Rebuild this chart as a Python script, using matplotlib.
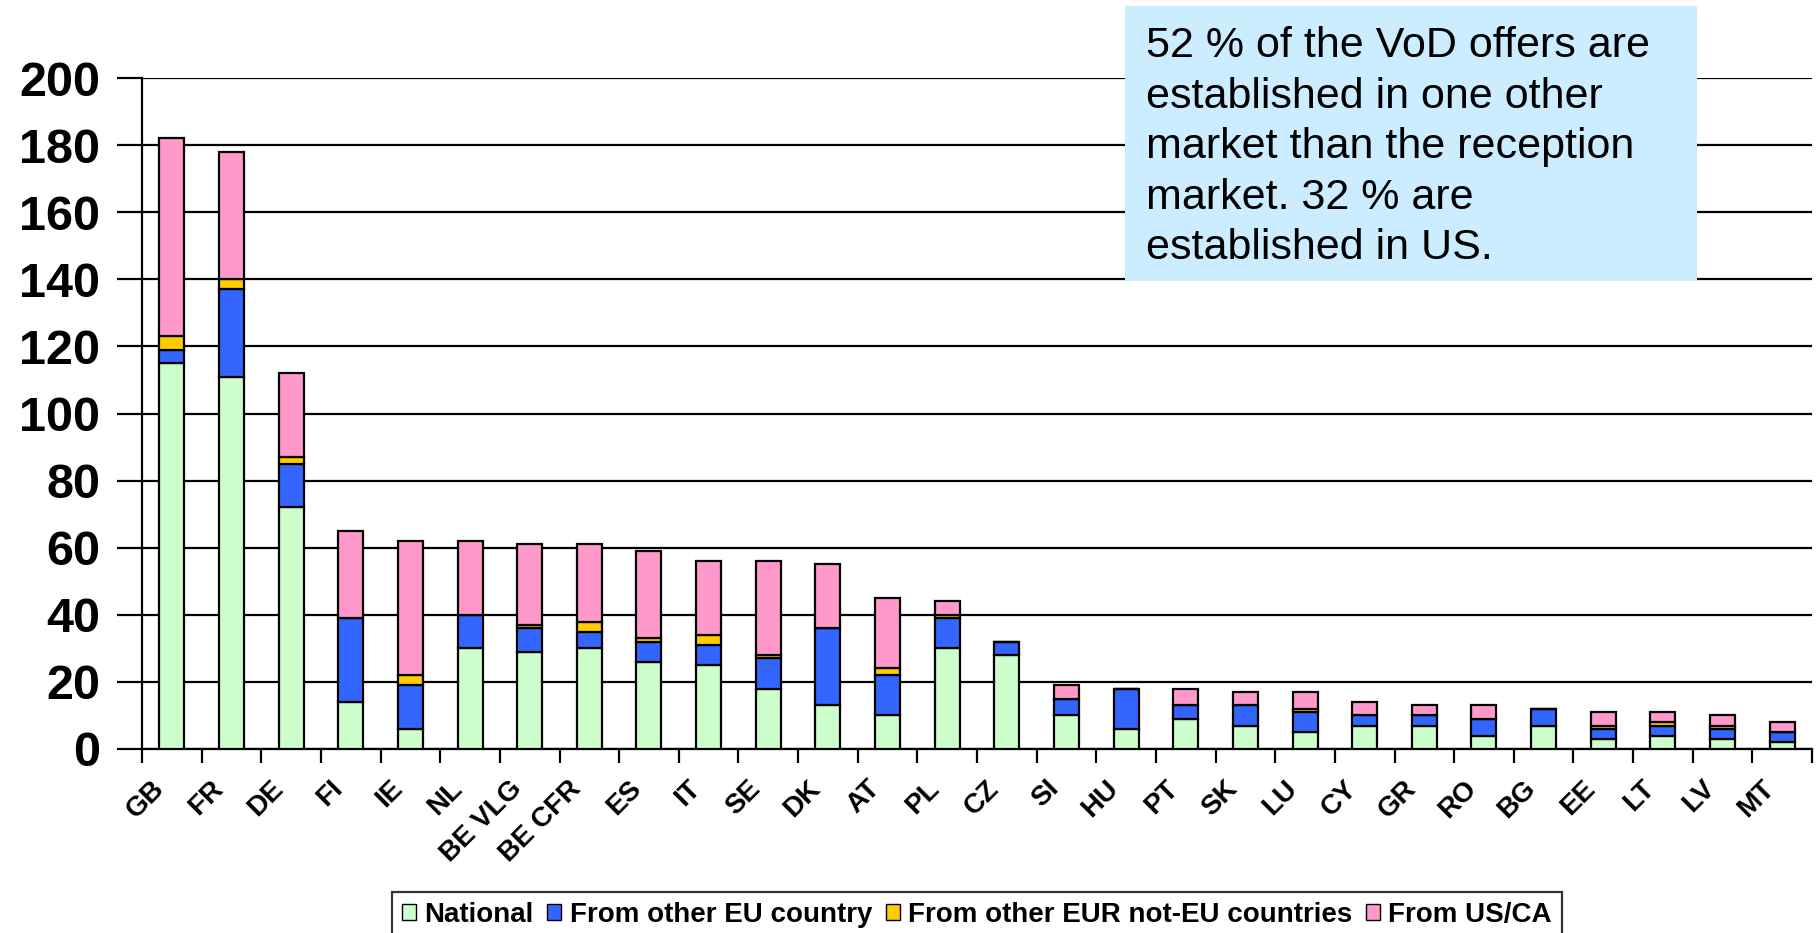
import numpy as np
import matplotlib
matplotlib.use('Agg')
import matplotlib.pyplot as plt
from matplotlib.patches import Rectangle
import matplotlib.transforms as mtransforms

plt.rcParams['font.family'] = ['Liberation Sans', 'DejaVu Sans']

countries = ['GB', 'FR', 'DE', 'FI', 'IE', 'NL', 'BE VLG', 'BE CFR', 'ES', 'IT',
             'SE', 'DK', 'AT', 'PL', 'CZ', 'SI', 'HU', 'PT', 'SK', 'LU', 'CY',
             'GR', 'RO', 'BG', 'EE', 'LT', 'LV', 'MT']
national = [115, 111, 72, 14, 6, 30, 29, 30, 26, 25, 18, 13, 10, 30, 28, 10, 6,
            9, 7, 5, 7, 7, 4, 7, 3, 4, 3, 2]
other_eu = [4, 26, 13, 25, 13, 10, 7, 5, 6, 6, 9, 23, 12, 9, 4, 5, 12, 4, 6, 6,
            3, 3, 5, 5, 3, 3, 3, 3]
other_eur = [4, 3, 2, 0, 3, 0, 1, 3, 1, 3, 1, 0, 2, 1, 0, 0, 0, 0, 0, 1, 0, 0,
             0, 0, 1, 1, 1, 0]
us_ca = [59, 38, 25, 26, 40, 22, 24, 23, 26, 22, 28, 19, 21, 4, 0, 4, 0, 5, 4,
         5, 4, 3, 4, 0, 4, 3, 3, 3]

series = [
    ('National', national, '#CCFFCC'),
    ('From other EU country', other_eu, '#3366FF'),
    ('From other EUR not-EU countries', other_eur, '#FFCC00'),
    ('From US/CA', us_ca, '#FF99CC'),
]

W, H = 1819, 933
fig = plt.figure(figsize=(W / 100, H / 100), dpi=100)
ax = fig.add_axes([142 / W, 1 - 749 / H, (1812 - 142) / W, (749 - 78) / H])

x = np.arange(len(countries))
bottom = np.zeros(len(countries))
handles = []
for name, vals, col in series:
    vals = np.array(vals, dtype=float)
    b = ax.bar(x, vals, width=0.42, bottom=bottom, color=col,
               edgecolor='black', linewidth=1.6, label=name, zorder=3)
    handles.append(b)
    bottom += vals

ax.set_xlim(-0.5, len(countries) - 0.5)
ax.set_ylim(0, 200)
ax.set_yticks(np.arange(0, 201, 20))
ax.yaxis.grid(True, color='black', linewidth=1.6)
ax.set_axisbelow(True)
for s in ['top', 'right']:
    ax.spines[s].set_visible(False)
for s in ['left', 'bottom']:
    ax.spines[s].set_linewidth(1.6)

ax.tick_params(axis='y', length=18, width=1.6, pad=12, labelsize=35)
for lab in ax.get_yticklabels():
    lab.set_fontweight('bold')

# boundary ticks between categories, labels at centres
ax.set_xticks(np.arange(-0.5, len(countries), 1.0), minor=True)
ax.tick_params(axis='x', which='minor', length=10, width=1.6, direction='out')
ax.set_xticks(x)
ax.set_xticklabels(countries, rotation=45, ha='right', rotation_mode='anchor',
                   fontsize=20, fontweight='bold')
ax.tick_params(axis='x', which='major', length=0, pad=19)
offset = mtransforms.ScaledTranslation(-21 / 100, 0, fig.dpi_scale_trans)
for lab in ax.get_xticklabels():
    lab.set_transform(lab.get_transform() + offset)

leg = fig.legend(handles=handles, loc='upper center', ncol=4,
                 bbox_to_anchor=(977 / W, 1 - 892 / H),
                 prop={'weight': 'bold', 'size': 20},
                 handlelength=0.5, handleheight=0.5, handletextpad=0.3,
                 columnspacing=0.5, borderpad=0.35, borderaxespad=0,
                 fancybox=False, frameon=True, edgecolor='black')
leg.get_frame().set_linewidth(1.6)
for p in leg.get_patches():
    p.set_linewidth(1.0)

box = Rectangle((1125 / W, 1 - 281 / H), (1697 - 1125) / W, (281 - 6) / H,
                transform=fig.transFigure, facecolor='#CCECFF',
                edgecolor='none', zorder=2)
fig.add_artist(box)
fig.text(1146 / W, 1 - 26 / H,
         '52 % of the VoD offers are\nestablished in one other\n'
         'market than the reception\nmarket. 32 % are\nestablished in US.',
         fontsize=31, va='top', ha='left', linespacing=1.34, zorder=3)

fig.savefig('out.png', dpi=100)
